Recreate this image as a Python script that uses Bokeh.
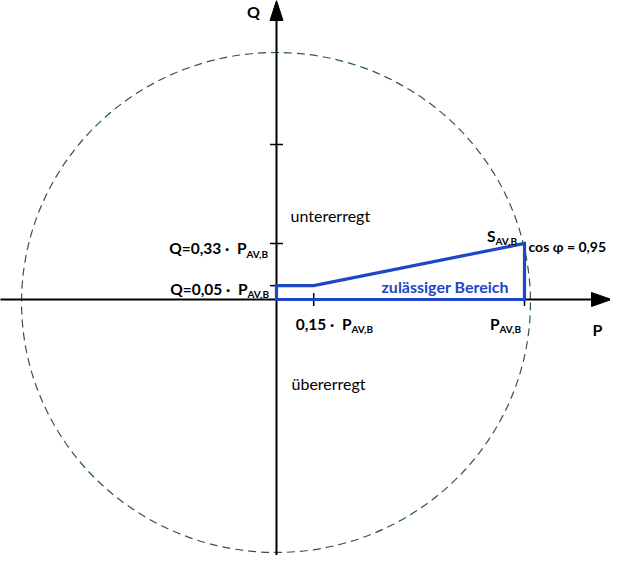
from bokeh.plotting import figure
from bokeh.models import Range1d
from bokeh.core.properties import value
from bokeh.embed import file_html
from bokeh.resources import INLINE

# ---- data (P in units of P_AV,B; Q drawn schematically) ----
p_region = [0.0, 0.0, 0.15, 1.0, 1.0]
q_region = [0.0, 0.056, 0.056, 0.226, 0.0]
q_ticks = [0.056, 0.226, 0.625]
p_ticks = [0.15, 1.0]
circle_x, circle_y = -0.002, -0.012
circle_w, circle_h = 2.052, 2.016

PX = 248.0  # screen pixels per unit


def X(r):
    return (r - 287) / PX


def Y(r):
    return (307 - r) / PX


W, H = 610, 555
p = figure(width=W, height=H, output_backend="svg", toolbar_location=None,
           x_range=Range1d(-276 / PX, (W - 276) / PX),
           y_range=Range1d(-(H - 299) / PX, 299 / PX),
           x_axis_type=None, y_axis_type=None, min_border=0,
           outline_line_color=None)
p.grid.visible = False
p.background_fill_color = "white"
p.border_fill_color = "white"

BLUE = "#1E46C8"
GREEN = "#2E5A3A"
FONT = value("Lato")
NB = "\u00a0"

# circle |S|
p.ellipse(x=circle_x, y=circle_y, width=circle_w, height=circle_h,
          fill_color=None, line_color=GREEN, line_dash="8 5", line_width=1.2)

# axes
p.line([X(10), X(603)], [0, 0], line_color="black", line_width=2)
p.patch([X(602), X(622), X(602)], [7 / PX, 0, -7 / PX], fill_color="black", line_color="black")
p.line([0, 0], [Y(575), Y(27)], line_color="black", line_width=2)
p.patch([-6.5 / PX, 0, 6.5 / PX], [Y(28), Y(8), Y(28)], fill_color="black", line_color="black")

# ticks
t = 6.5 / PX
p.segment(x0=[-t] * len(q_ticks), y0=q_ticks, x1=[t] * len(q_ticks), y1=q_ticks,
          line_color="black", line_width=1.5)
p.segment(x0=p_ticks, y0=[-t] * len(p_ticks), x1=p_ticks, y1=[t] * len(p_ticks),
          line_color="black", line_width=1.5)

# permitted region
p.patch(p_region, q_region, fill_color=None, line_color=BLUE, line_width=3.2,
        line_join="miter")


def txt(x, y, s, size, bold=True, color="black", align="left", baseline="alphabetic"):
    p.text(x=[x], y=[y], text=[s], text_font=FONT, text_font_size=f"{size}px",
           text_font_style="bold" if bold else "normal", text_color=color,
           text_align=align, text_baseline=baseline)


MS, SS = 15.5, 10
txt(X(264), Y(19), "Q", 16, align="center", baseline="middle")
txt(X(608), Y(337), "P", 16, align="center")
txt(X(301), Y(223), "untererregt", 16, bold=False)
txt(X(302), Y(391), "übererregt", 16, bold=False)

txt(X(257), Y(255), f"Q=0,33 ·{NB}{NB}P", MS, align="right")
txt(X(257), Y(261), "AV,B", SS)
txt(X(258), Y(296), f"Q=0,05 ·{NB}{NB}P", MS, align="right")
txt(X(258), Y(301), "AV,B", SS)
txt(X(362), Y(331), f"0,15 ·{NB}{NB}P", MS, align="right")
txt(X(362), Y(336), "AV,B", SS)
txt(X(510), Y(331), "P", MS, align="right")
txt(X(510), Y(336), "AV,B", SS)
txt(X(506), Y(243), "S", MS, align="right")
txt(X(506), Y(248), "AV,B", SS)
txt(X(539), Y(254), "cos φ = 0,95", 14)
txt(X(392), Y(294), "zulässiger Bereich", 16, color=BLUE)

open("out.html", "w").write(file_html(p, INLINE))
